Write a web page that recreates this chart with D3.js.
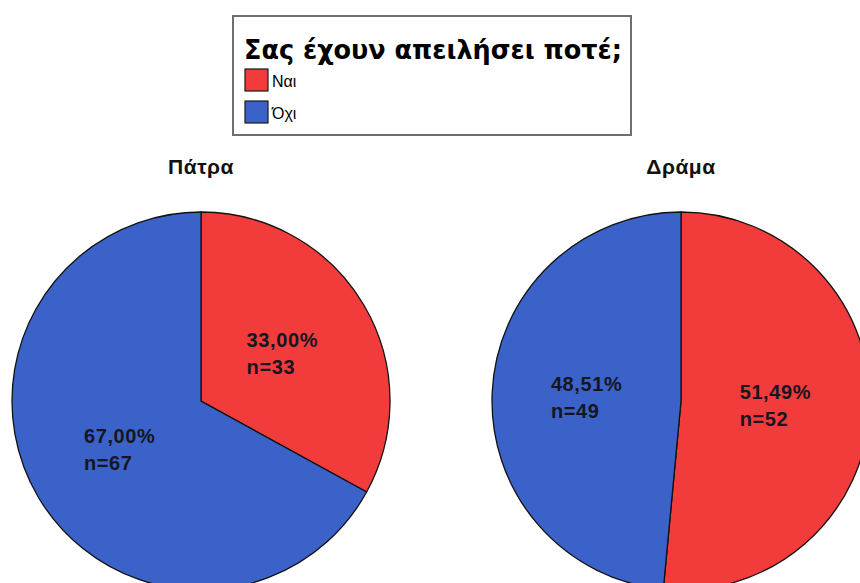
<!DOCTYPE html>
<html>
<head>
<meta charset="utf-8">
<script src="https://cdn.jsdelivr.net/npm/d3@7"></script>
<style>
  body { margin: 0; background: #fff; }
  svg { display: block; }
</style>
</head>
<body>
<div id="chart"></div>
<script>
// data
var categories = ["Ναι", "Όχι"];
var cities = ["Πάτρα", "Δράμα"];
var percents = [[33.00, 67.00], [51.49, 48.51]];
var counts = [[33, 67], [52, 49]];
var legendTitle = "Σας έχουν απειλήσει ποτέ;";

var svgWidth = 860;
var svgHeight = 583;

var color = d3.scaleOrdinal()
	.domain(categories)
	.range(["#f23b3b", "#3a62c9"]);

var svg = d3.select("#chart")
	.append("svg")
	.attr("width", svgWidth)
	.attr("height", svgHeight);

// legend box
var legend = svg.append("g");
legend.append("rect")
	.attr("x", 233)
	.attr("y", 16)
	.attr("width", 398)
	.attr("height", 119)
	.attr("fill", "#fff")
	.attr("stroke", "#6e6e6e")
	.attr("stroke-width", 2);

legend.append("text")
	.attr("x", 244)
	.attr("y", 59)
	.attr("font-family", "DejaVu Sans, sans-serif")
	.attr("font-weight", "bold")
	.attr("font-size", 27)
	.attr("textLength", 378)
	.attr("lengthAdjust", "spacingAndGlyphs")
	.attr("fill", "#000")
	.text(legendTitle);

var items = legend.selectAll(".item")
	.data(categories)
	.enter()
	.append("g")
	.attr("transform", (d, i) => `translate(245, ${69 + i * 32})`);

items.append("rect")
	.attr("width", 23)
	.attr("height", 22)
	.attr("fill", d => color(d))
	.attr("stroke", "#1a1a1a")
	.attr("stroke-width", 1.2);

items.append("text")
	.attr("x", 27)
	.attr("y", 18)
	.attr("font-family", "Liberation Sans, Arial, sans-serif")
	.attr("font-size", 16)
	.attr("fill", "#000")
	.text(d => d);

// pies
var radius = 189;
var centers = [[201, 401], [681, 401]];

var pie = d3.pie().sort(null).value(d => d.value);
var arc = d3.arc().innerRadius(0).outerRadius(radius);

cities.forEach(function (city, k) {
	var rows = categories.map((c, i) => ({
		cat: c, value: percents[k][i], n: counts[k][i]
	}));

	var g = svg.append("g")
		.attr("transform", `translate(${centers[k][0]}, ${centers[k][1]})`);

	svg.append("text")
		.attr("x", centers[k][0])
		.attr("y", 174)
		.attr("text-anchor", "middle")
		.attr("font-family", "Liberation Sans, Arial, sans-serif")
		.attr("font-weight", "bold")
		.attr("font-size", 21)
		.attr("letter-spacing", 0.5)
		.attr("fill", "#111")
		.text(city);

	var arcs = pie(rows);

	g.selectAll("path")
		.data(arcs)
		.enter()
		.append("path")
		.attr("d", arc)
		.attr("fill", d => color(d.data.cat))
		.attr("stroke", "#111")
		.attr("stroke-width", 1.3);

	// labels: two lines, left aligned, block centred on the centroid
	var labels = g.selectAll(".lbl")
		.data(arcs)
		.enter()
		.append("g")
		.attr("class", "lbl");

	labels.each(function (d) {
		var c = arc.centroid(d);
		var lg = d3.select(this);
		var t1 = lg.append("text")
			.attr("font-family", "Liberation Sans, Arial, sans-serif")
			.attr("font-weight", "bold")
			.attr("font-size", 20)
			.attr("letter-spacing", 0.6)
			.attr("fill", "#161622")
			.text(d3.format(".2f")(d.data.value).replace(".", ",") + "%");
		var w = t1.node().getComputedTextLength();
		var x0 = c[0] - w / 2;
		t1.attr("x", x0).attr("y", c[1] - 6);
		lg.append("text")
			.attr("x", x0)
			.attr("y", c[1] + 21)
			.attr("font-family", "Liberation Sans, Arial, sans-serif")
			.attr("font-weight", "bold")
			.attr("font-size", 20)
			.attr("letter-spacing", 0.6)
			.attr("fill", "#161622")
			.text("n=" + d.data.n);
	});
});
</script>
</body>
</html>
